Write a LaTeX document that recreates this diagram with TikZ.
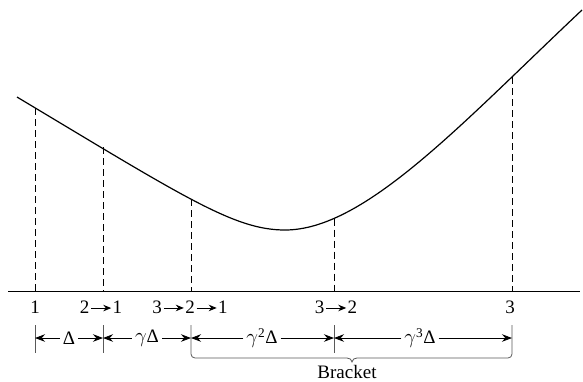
\documentclass[tikz,border=0pt]{standalone}
\usepackage{fontspec}
\setmainfont{Liberation Serif}
\usetikzlibrary{arrows.meta}
\newcommand{\ra}{\kern1.5pt\tikz[baseline=-0.6ex]\draw[line width=0.9pt,-{Stealth[length=8pt,width=6.5pt]}] (0,0) -- (20pt,0);\kern1pt}
\newcommand{\gam}{{\fontsize{20}{22}\selectfont$\gamma$}}
\begin{document}
\begin{tikzpicture}[x=1pt,y=-1pt,
  curveline/.style={line width=1.2pt},
  guide/.style={line width=0.9pt,dash pattern=on 7pt off 4pt},
  axisline/.style={line width=0.9pt},
  tick/.style={line width=0.8pt,gray!70!black},
  dimarrow/.style={line width=0.8pt,-{Stealth[length=10pt,width=7.5pt]}},
  lab/.style={font=\fontsize{19}{21}\selectfont,inner sep=1pt},
  dimlab/.style={font=\fontsize{19}{21}\selectfont,inner sep=3pt,fill=white}]
\useasboundingbox (0,0) rectangle (583,381);
% curve
\draw[curveline] (17,97) .. controls (187,199) and (235,230) .. (285,230)
                        .. controls (365,230) and (462,123) .. (582,10);
% points on curve
\coordinate (c1) at (35,108);
\coordinate (c2) at (103,147);
\coordinate (c3) at (191,199);
\coordinate (c4) at (334,218.5);
\coordinate (c5) at (512,77);
% axis
\coordinate (axL) at (8,291);
\coordinate (axR) at (580,291);
\draw[axisline] (axL) -- (axR);
\foreach \i/\x in {1/35,2/103,3/191,4/334,5/512}{
  \coordinate (a\i) at (\x,291);
  \draw[guide] (c\i) -- (a\i);
}
% labels
\node[lab] (l1) at (35,307) {1};
\node[lab] (l2) at (101,307) {2\ra1};
\node[lab] (l3) at (190,307) {3\ra2\ra1};
\node[lab] (l4) at (336,307) {3\ra2};
\node[lab] (l5) at (510,307) {3};
% dimension ticks
\foreach \i/\x in {1/35,2/103,4/334}{
  \coordinate (tt\i) at (\x,325);
  \coordinate (tb\i) at (\x,353);
  \coordinate (d\i) at (\x,338);
  \draw[tick] (tt\i) -- (tb\i);
}
\coordinate (tt3) at (191,325);
\coordinate (d3) at (191,338);
\coordinate (tt5) at (512,325);
\coordinate (d5) at (512,338);
% bracket
\coordinate (bm) at (352,362);
\draw[tick] (tt3) -- (191,354) to[out=-90,in=180] (195,358) -- (347,358) to[out=0,in=90] (bm) to[out=90,in=180] (357,358) -- (508,358) to[out=0,in=-90] (512,354) -- (tt5);
\node[lab,inner sep=0pt,anchor=base] (br) at (347,378) {Bracket};
% dimension labels
\node[dimlab] (m1) at (69,338) {Δ};
\node[dimlab] (m2) at (147,338) {\gam Δ};
\node[dimlab] (m3) at (262,338) {\gam\textsuperscript{2}Δ};
\node[dimlab] (m4) at (420,338) {\gam\textsuperscript{3}Δ};
\draw[dimarrow] (m1) -- (d1);
\draw[dimarrow] (m1) -- (d2);
\draw[dimarrow] (m2) -- (d2);
\draw[dimarrow] (m2) -- (d3);
\draw[dimarrow] (m3) -- (d3);
\draw[dimarrow] (m3) -- (d4);
\draw[dimarrow] (m4) -- (d4);
\draw[dimarrow] (m4) -- (d5);
\end{tikzpicture}
\end{document}
